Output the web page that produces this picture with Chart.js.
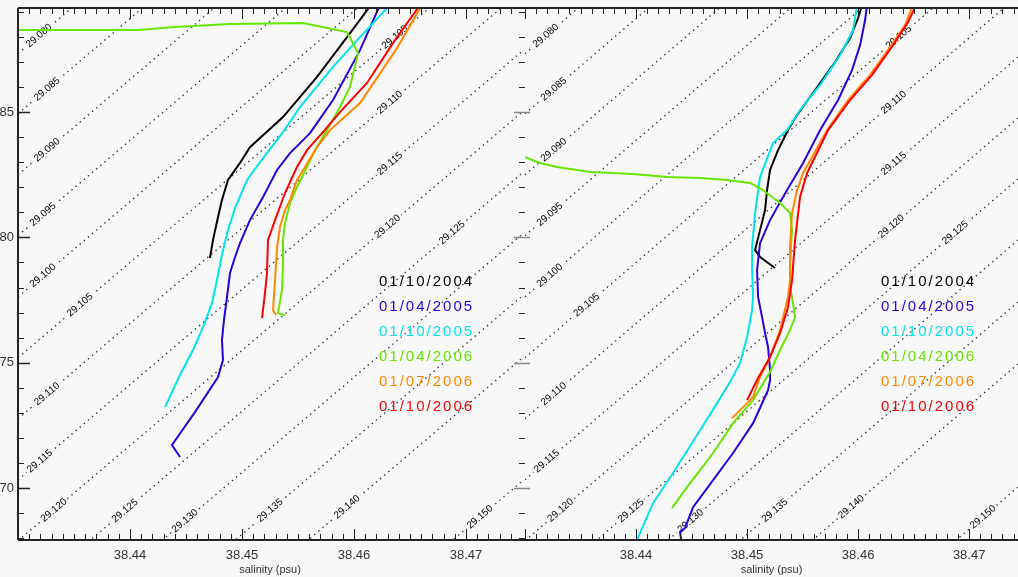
<!DOCTYPE html>
<html>
<head>
<meta charset="utf-8">
<script src="https://cdn.jsdelivr.net/npm/chart.js@4.4.1/dist/chart.umd.min.js"></script>
<style>
  html, body { margin: 0; padding: 0; background: #f8f8f8; width: 1018px; height: 577px; overflow: hidden; }
  canvas { position: absolute; top: 0; }
  #tsLeft { left: 0; }
  #tsRight { left: 505px; }
</style>
</head>
<body>
<canvas id="tsLeft" width="522" height="577"></canvas>
<canvas id="tsRight" width="513" height="577"></canvas>
<script>
// Series labels and colours
const dates = ['01/10/2004', '01/04/2005', '01/10/2005', '01/04/2006', '01/07/2006', '01/10/2006'];
const colors = ['#000000', '#2a00e0', '#00e4ee', '#66e600', '#ff8800', '#ff0000'];

// Axis ranges and ticks
const salMin = 38.43;
const salMaxLeft = 38.475;
const salMaxRight = 38.4744;
const thetaMin = 67.93;
const thetaMax = 89.15;
const xTickValues = [38.44, 38.45, 38.46, 38.47];
const yTickValues = [70, 75, 80, 85];

// Left panel profiles (salinity, theta)
const salL2004 = [38.46152, 38.45938, 38.45670, 38.45366, 38.45071, 38.44982, 38.44875, 38.44821, 38.44786, 38.44741, 38.44714];
const thL2004 = [89.27, 87.99, 86.40, 84.80, 83.60, 82.97, 82.29, 81.49, 80.81, 79.89, 79.18];
const salL0405 = [38.46232, 38.46054, 38.45813, 38.45607, 38.45429, 38.45313, 38.45188, 38.45071, 38.44982, 38.44938, 38.44893, 38.44866, 38.44839, 38.44821, 38.44830, 38.44786, 38.44580, 38.44375, 38.44446];
const thL0405 = [89.27, 87.47, 85.48, 84.16, 83.36, 82.69, 81.61, 80.69, 79.77, 79.22, 78.58, 77.62, 76.70, 75.91, 75.11, 74.43, 73.03, 71.72, 71.24];
const salL1005 = [38.46321, 38.46054, 38.45813, 38.45518, 38.45366, 38.45188, 38.45045, 38.44938, 38.44875, 38.44821, 38.44777, 38.44732, 38.44652, 38.44563, 38.44446, 38.44313];
const thL1005 = [89.27, 87.99, 86.80, 85.20, 84.20, 83.16, 82.29, 81.17, 80.29, 79.30, 78.30, 77.38, 76.42, 75.51, 74.51, 73.23];
const salL0406 = [38.42929, 38.44071, 38.44402, 38.44893, 38.45545, 38.45938, 38.46036, 38.45964, 38.45875, 38.45759, 38.45652, 38.45580, 38.45491, 38.45429, 38.45384, 38.45366, 38.45366, 38.45357, 38.45321, 38.45384];
const thL0406 = [88.27, 88.27, 88.39, 88.51, 88.55, 88.19, 87.35, 86.00, 85.20, 84.28, 83.48, 82.81, 82.01, 81.37, 80.57, 79.89, 78.98, 77.90, 76.98, 76.90];
const salL0706 = [38.46607, 38.46384, 38.46054, 38.45786, 38.45670, 38.45563, 38.45491, 38.45429, 38.45384, 38.45339, 38.45313, 38.45295, 38.45277, 38.45304];
const thL0706 = [89.27, 87.55, 85.36, 84.28, 83.60, 82.81, 82.29, 81.49, 81.09, 80.41, 79.61, 78.30, 77.10, 76.90];
const salL1006 = [38.46589, 38.46348, 38.46116, 38.45875, 38.45723, 38.45580, 38.45491, 38.45384, 38.45295, 38.45232, 38.45223, 38.45205, 38.45179];
const thL1006 = [89.27, 87.75, 86.16, 85.00, 84.20, 83.48, 82.81, 81.77, 80.69, 79.89, 78.58, 77.78, 76.78];

// Right panel profiles (salinity, theta)
const salR2004 = [38.46036, 38.46000, 38.45928, 38.45793, 38.45613, 38.45450, 38.45369, 38.45279, 38.45207, 38.45180, 38.45162, 38.45117, 38.45072, 38.45117, 38.45252];
const thR2004 = [89.27, 88.75, 87.95, 86.99, 85.88, 84.88, 84.28, 83.48, 82.69, 81.89, 81.09, 80.29, 79.50, 79.22, 78.78];
const salR0405 = [38.46081, 38.46063, 38.46018, 38.45946, 38.45820, 38.45658, 38.45505, 38.45360, 38.45207, 38.45117, 38.45090, 38.45099, 38.45135, 38.45162, 38.45189, 38.45207, 38.45207, 38.45189, 38.45054, 38.44874, 38.44694, 38.44514, 38.44441, 38.44396, 38.44414];
const thR0405 = [89.27, 88.67, 87.67, 86.68, 85.48, 84.28, 82.97, 81.89, 80.69, 79.77, 78.70, 77.62, 76.82, 76.18, 75.63, 74.71, 74.31, 73.91, 72.59, 71.40, 70.32, 69.24, 68.41, 68.25, 67.73];
const salR1005 = [38.45991, 38.45955, 38.45838, 38.45658, 38.45477, 38.45360, 38.45234, 38.45117, 38.45072, 38.45045, 38.45045, 38.45054, 38.45045, 38.45000, 38.44937, 38.44847, 38.44730, 38.44577, 38.44333, 38.44153, 38.44009, 38.43973];
const thR1005 = [89.27, 88.27, 87.27, 86.08, 85.08, 84.28, 83.76, 82.41, 80.97, 79.61, 78.70, 77.62, 77.10, 76.03, 74.99, 74.23, 73.39, 72.31, 70.60, 69.40, 67.93, 67.61];
const salR0406 = [38.43000, 38.43135, 38.43288, 38.43586, 38.43973, 38.44279, 38.44577, 38.44820, 38.45027, 38.45144, 38.45297, 38.45387, 38.45405, 38.45387, 38.45387, 38.45414, 38.45432, 38.45387, 38.45297, 38.45207, 38.45054, 38.44874, 38.44694, 38.44577, 38.44459, 38.44324];
const thR0406 = [83.20, 82.97, 82.81, 82.61, 82.53, 82.41, 82.37, 82.29, 82.17, 81.89, 81.37, 80.97, 80.29, 78.98, 78.02, 77.38, 76.82, 76.30, 75.51, 74.63, 73.51, 72.59, 71.40, 70.72, 70.04, 69.20];
const salR0706 = [38.46495, 38.46423, 38.46288, 38.46108, 38.45910, 38.45721, 38.45505, 38.45450, 38.45405, 38.45387, 38.45387, 38.45369, 38.45297, 38.45207, 38.45117, 38.45054, 38.45000, 38.44865];
const thR0706 = [89.27, 88.47, 87.59, 86.48, 85.48, 84.28, 82.57, 81.89, 80.97, 79.61, 78.30, 77.62, 76.30, 75.23, 74.43, 73.63, 73.39, 72.79];
const salR1006 = [38.46523, 38.46450, 38.46315, 38.46126, 38.45928, 38.45730, 38.45541, 38.45477, 38.45432, 38.45405, 38.45369, 38.45297, 38.45207, 38.45099, 38.45000];
const thR1006 = [89.27, 88.59, 87.67, 86.48, 85.48, 84.28, 82.57, 81.61, 79.89, 78.30, 77.22, 76.18, 75.23, 74.39, 73.51];

// Isopycnals: theta where each level crosses the two salinity ends
const sigmaLevels = ['29.080', '29.085', '29.090', '29.095', '29.100', '29.105', '29.110', '29.115', '29.120', '29.125', '29.130', '29.135', '29.140', '29.150'];
const isoSal = [38.43, 38.475];
const isoThetaLo = [87.33, 84.93, 82.50, 80.07, 77.63, 75.20, 72.77, 70.33, 67.90, 65.47, 63.03, 60.56, 58.09, 53.18];
const isoThetaHi = [104.42, 102.02, 99.59, 97.16, 94.72, 92.29, 89.86, 87.42, 84.99, 82.56, 80.12, 77.65, 75.18, 70.27];
// salinity where each contour label sits (two label rows)
const labelSalLow = [38.43188, 38.43259, 38.43259, 38.43223, 38.43223, 38.43554, 38.43259, 38.43196, 38.43321, 38.43955, 38.44491, 38.45250, 38.45938, 38.47125];
const labelSalHigh = [null, null, null, null, null, 38.46366, 38.46321, 38.46321, 38.46300, 38.46875, null, null, null, null];

const bgColor = '#f8f8f8';
const fontFamily = '"Liberation Sans", Arial, sans-serif';
Chart.defaults.font.family = fontFamily;
Chart.defaults.color = '#333';

const pairs = (s, t) => s.map((v, i) => ({ x: v, y: t[i] }));

function isoDataset() {
  const pts = [];
  sigmaLevels.forEach((lv, i) => {
    pts.push({ x: isoSal[0], y: isoThetaLo[i] }, { x: isoSal[1], y: isoThetaHi[i] }, { x: isoSal[1], y: null });
  });
  return {
    label: 'isopycnals', isIso: true, data: pts, borderColor: '#333', borderWidth: 1.4,
    borderDash: [1.4, 4], pointRadius: 0, spanGaps: false, order: 10
  };
}

const isoLabelPlugin = {
  id: 'isoLabels',
  afterDatasetDraw(chart, args) {
    if (!chart.data.datasets[args.index].isIso) return;
    const { ctx, chartArea: a, scales: { x, y } } = chart;
    ctx.save();
    ctx.beginPath();
    ctx.rect(a.left, a.top, a.right - a.left, a.bottom - a.top);
    ctx.clip();
    ctx.font = '10px ' + fontFamily;
    ctx.textAlign = 'center';
    ctx.textBaseline = 'middle';
    sigmaLevels.forEach((lv, i) => {
      const x0 = x.getPixelForValue(isoSal[0]), y0 = y.getPixelForValue(isoThetaLo[i]);
      const x1 = x.getPixelForValue(isoSal[1]), y1 = y.getPixelForValue(isoThetaHi[i]);
      const ang = Math.atan2(y1 - y0, x1 - x0);
      [labelSalLow[i], labelSalHigh[i]].forEach(s => {
        if (s == null) return;
        const f = (s - isoSal[0]) / (isoSal[1] - isoSal[0]);
        const px = x.getPixelForValue(s);
        const py = y.getPixelForValue(isoThetaLo[i] + f * (isoThetaHi[i] - isoThetaLo[i]));
        ctx.save();
        ctx.translate(px, py);
        ctx.rotate(ang);
        const w = ctx.measureText(lv).width + 5;
        ctx.fillStyle = bgColor;
        ctx.fillRect(-w / 2, -4, w, 8);
        ctx.fillStyle = '#000';
        ctx.fillText(lv, 0, 0);
        ctx.restore();
      });
    });
    ctx.restore();
  }
};

const framePlugin = {
  id: 'frame',
  afterDraw(chart, args, opts) {
    const { ctx, chartArea: { left, right, top, bottom }, scales: { x, y } } = chart;
    ctx.save();
    ctx.strokeStyle = '#222';
    ctx.lineWidth = 2;
    ctx.beginPath();
    ctx.moveTo(left - opts.extend, top); ctx.lineTo(right, top);
    ctx.moveTo(left - opts.extend, bottom); ctx.lineTo(right, bottom);
    if (opts.leftLine) { ctx.moveTo(left, top); ctx.lineTo(left, bottom); }
    ctx.stroke();

    // salinity ticks, every 0.001, bottom and top
    ctx.lineWidth = 1;
    ctx.beginPath();
    for (let k = 0; k <= 45; k++) {
      const v = salMin + k * 0.001;
      if (v > x.max + 1e-9) break;
      const px = Math.round(x.getPixelForValue(v)) + 0.5;
      const len = k % 10 === 0 ? 11 : 6;
      ctx.moveTo(px, bottom); ctx.lineTo(px, bottom - len);
      ctx.moveTo(px, top); ctx.lineTo(px, top + len);
    }
    ctx.stroke();

    // theta ticks, every 1
    for (let t = 68; t <= 89; t++) {
      const py = Math.round(y.getPixelForValue(t)) + 0.5;
      const major = t % 5 === 0;
      ctx.beginPath();
      if (opts.leftLine) {
        ctx.strokeStyle = '#222';
        ctx.lineWidth = major ? 1.5 : 1;
        ctx.moveTo(left, py); ctx.lineTo(left + (major ? 12 : 6), py);
      } else {
        ctx.strokeStyle = major ? '#888' : '#222';
        ctx.lineWidth = major ? 1.5 : 1;
        if (major) { ctx.moveTo(left - 11, py); ctx.lineTo(left + 5, py); }
        else { ctx.moveTo(left - 6, py); ctx.lineTo(left, py); }
      }
      ctx.stroke();
    }
    ctx.restore();
  }
};

const legendPlugin = {
  id: 'dateLegend',
  afterDraw(chart, args, opts) {
    const { ctx, chartArea: { left, top } } = chart;
    ctx.save();
    ctx.font = '15px ' + fontFamily;
    ctx.letterSpacing = '2px';
    ctx.textAlign = 'left';
    ctx.textBaseline = 'middle';
    dates.forEach((d, i) => {
      ctx.fillStyle = colors[i];
      ctx.fillText(d, left + opts.dx, top + 274 + i * 25);
    });
    ctx.restore();
  }
};

function makeChart(id, sals, thetas, xMax, showY, yWidth, legendDx) {
  const datasets = sals.map((s, i) => ({
    label: dates[i], data: pairs(s, thetas[i]), borderColor: colors[i], borderWidth: 2,
    pointRadius: 0, tension: 0, fill: false, order: 6 - i
  }));
  datasets.push(isoDataset());
  return new Chart(document.getElementById(id), {
    type: 'line',
    data: { datasets },
    options: {
      responsive: false,
      animation: false,
      devicePixelRatio: 1,
      layout: { padding: { top: 8, left: 0, right: 0, bottom: 0 } },
      plugins: {
        legend: { display: false },
        tooltip: { enabled: false },
        frame: { leftLine: showY, extend: showY ? 0 : 5 },
        dateLegend: { dx: legendDx }
      },
      scales: {
        x: {
          type: 'linear', min: salMin, max: xMax,
          afterBuildTicks: s => { s.ticks = xTickValues.map(v => ({ value: v })); },
          afterFit: s => { s.height = 37; s.paddingLeft = 0; s.paddingRight = 0; },
          grid: { display: false, drawTicks: false },
          border: { display: false },
          ticks: { callback: v => v.toFixed(2), font: { size: 13 }, color: '#333', padding: 8, maxRotation: 0, autoSkip: false },
          title: { display: true, text: 'salinity (psu)', font: { size: 11 }, color: '#333', padding: { top: 0, bottom: 0 } }
        },
        y: {
          type: 'linear', min: thetaMin, max: thetaMax,
          afterBuildTicks: s => { s.ticks = yTickValues.map(v => ({ value: v })); },
          afterFit: s => { s.width = yWidth; s.paddingTop = 0; s.paddingBottom = 0; },
          grid: { display: false, drawTicks: false },
          border: { display: false },
          ticks: { display: showY, font: { size: 13 }, color: '#333', padding: 4 }
        }
      }
    },
    plugins: [isoLabelPlugin, framePlugin, legendPlugin]
  });
}

makeChart('tsLeft',
  [salL2004, salL0405, salL1005, salL0406, salL0706, salL1006],
  [thL2004, thL0405, thL1005, thL0406, thL0706, thL1006],
  salMaxLeft, true, 18, 361);

makeChart('tsRight',
  [salR2004, salR0405, salR1005, salR0406, salR0706, salR1006],
  [thR2004, thR0405, thR1005, thR0406, thR0706, thR1006],
  salMaxRight, false, 20, 356);
</script>
</body>
</html>
